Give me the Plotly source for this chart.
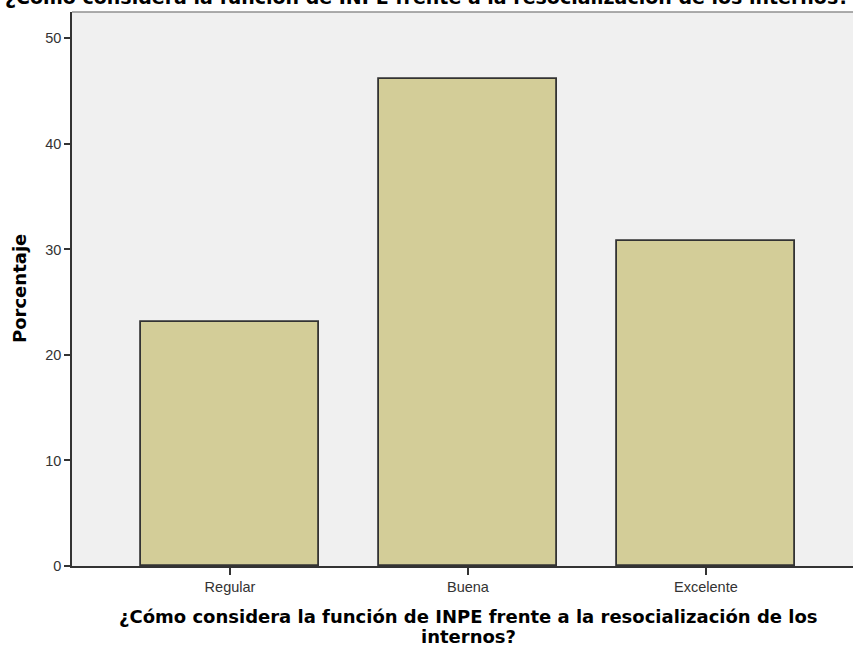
import plotly.graph_objects as go

categories = ["Regular", "Buena", "Excelente"]
porcentaje = [23.08, 46.15, 30.77]
y_ticks = [0, 10, 20, 30, 40, 50]
titulo = "¿Cómo considera la función de INPE frente a la resocialización de los internos?"
x_titulo_1 = "¿Cómo considera la función de INPE frente a la resocialización de los"
x_titulo_2 = "internos?"
y_titulo = "Porcentaje"

W, H = 853, 650
L, R, T, B = 72, 0, 12, 84
PW, PH = W - L - R, H - T - B

def px_x(x):
    return (x - L) / PW

def px_y(y):
    return (H - B - y) / PH

BOLD = "DejaVu Sans, Liberation Sans, Arial, sans-serif"

fig = go.Figure()
fig.add_trace(go.Bar(
    x=[0, 1, 2], y=porcentaje, width=0.75,
    marker=dict(color="#D3CD98", line=dict(color="#333333", width=1.8)),
))

fig.update_layout(
    width=W, height=H,
    margin=dict(l=L, r=R, t=T, b=B, autoexpand=False),
    paper_bgcolor="white", plot_bgcolor="#F0F0F0",
    showlegend=False,
    font=dict(family="Liberation Sans, Arial, sans-serif", size=14, color="#333333"),
    bargap=0,
)
fig.update_xaxes(
    range=[-0.664, 2.618],
    tickmode="array", tickvals=[0, 1, 2], ticktext=categories,
    ticks="outside", ticklen=7, tickcolor="#333333", tickwidth=1.5,
    showline=True, linecolor="#333333", linewidth=1.5,
    showgrid=False, zeroline=False,
    tickfont=dict(size=14.5),
)
fig.update_yaxes(
    range=[0, 52.5],
    tickmode="array", tickvals=y_ticks,
    ticks="outside", ticklen=6, tickcolor="#333333", tickwidth=1.5,
    showline=True, linecolor="#333333", linewidth=1.5,
    showgrid=False, zeroline=False,
    tickfont=dict(size=14.5),
)

# top border of the plot area
fig.add_shape(type="line", xref="paper", yref="paper", x0=0, x1=1, y0=1, y1=1,
              line=dict(color="#909090", width=1.5))

# x-axis title (two lines)
fig.add_annotation(text="<b>" + x_titulo_1 + "</b>", xref="paper", yref="paper",
                   x=px_x(468), y=px_y(616), xanchor="center", yanchor="middle",
                   showarrow=False, font=dict(size=18, color="black", family=BOLD))
fig.add_annotation(text="<b>" + x_titulo_2 + "</b>", xref="paper", yref="paper",
                   x=px_x(468), y=px_y(636), xanchor="center", yanchor="middle",
                   showarrow=False, font=dict(size=18, color="black", family=BOLD))

# y-axis title
fig.add_annotation(text="<b>" + y_titulo + "</b>", xref="paper", yref="paper",
                   x=px_x(19), y=px_y(289), xanchor="center", yanchor="middle",
                   textangle=-90, showarrow=False,
                   font=dict(size=18, color="black", family=BOLD))

# clipped chart title at top
fig.add_annotation(
    text="<b>" + titulo + "</b>", xref="paper", yref="paper",
    x=px_x(427), y=px_y(9), borderpad=0,
    xanchor="center", yanchor="bottom", showarrow=False,
    font=dict(size=19, color="black", family=BOLD),
)

fig.write_html("out.html", config={"displayModeBar": False},
               post_script="document.body.style.margin='0px';document.body.style.overflow='hidden';")
